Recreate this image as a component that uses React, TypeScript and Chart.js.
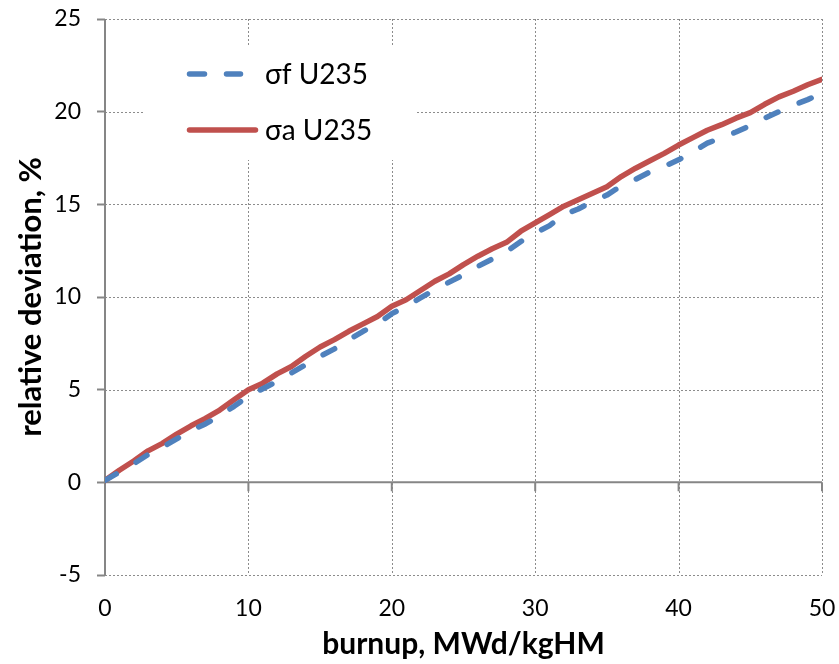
import React, { useEffect, useRef } from "react";
import { Chart, registerables } from "chart.js";

Chart.register(...registerables);

const burnup = [
  0, 1, 2, 3, 4, 5, 6, 7, 8, 9, 10, 11, 12, 13, 14, 15, 16, 17, 18, 19, 20, 21, 22, 23, 24, 25,
  26, 27, 28, 29, 30, 31, 32, 33, 34, 35, 36, 37, 38, 39, 40, 41, 42, 43, 44, 45, 46, 47, 48, 49, 50,
];
const sigmaF = [
  0.1, 0.55, 1.0, 1.5, 1.9, 2.35, 2.8, 3.15, 3.6, 4.1, 4.65, 5.05, 5.45, 5.9, 6.35, 6.8, 7.2, 7.7,
  8.15, 8.55, 9.1, 9.5, 9.95, 10.4, 10.8, 11.2, 11.65, 12.05, 12.45, 13.0, 13.45, 13.85, 14.45,
  14.75, 15.15, 15.5, 16.0, 16.35, 16.75, 17.05, 17.4, 17.85, 18.3, 18.6, 18.9, 19.25, 19.65, 20.0,
  20.35, 20.65, 21.0,
];
const sigmaA = [
  0.1, 0.65, 1.15, 1.7, 2.1, 2.6, 3.05, 3.45, 3.9, 4.45, 5.0, 5.35, 5.85, 6.25, 6.8, 7.3, 7.7, 8.15,
  8.55, 8.95, 9.5, 9.85, 10.35, 10.85, 11.25, 11.75, 12.2, 12.6, 12.95, 13.55, 14.0, 14.45, 14.9,
  15.25, 15.6, 15.95, 16.5, 16.95, 17.35, 17.75, 18.2, 18.6, 19.0, 19.3, 19.65, 19.95, 20.4, 20.8,
  21.1, 21.45, 21.75,
];
const seriesLabels = ["σf U235", "σa U235"];
const xTitle = "burnup, MWd/kgHM";
const yTitle = "relative deviation, %";
const xRange = [0, 50, 10];
const yRange = [-5, 25, 5];

const FONT = "Lato";

const dottedGridPlugin = {
  id: "dottedGrid",
  beforeDatasetsDraw(chart: any) {
    const { ctx, chartArea, scales } = chart;
    ctx.save();
    ctx.strokeStyle = "#8c8c8c";
    ctx.lineWidth = 1;
    ctx.setLineDash([2, 2]);
    ctx.beginPath();
    scales.y.ticks.forEach((t: any) => {
      const py = Math.round(scales.y.getPixelForValue(t.value)) + 0.5;
      ctx.moveTo(chartArea.left, py);
      ctx.lineTo(chartArea.right, py);
    });
    scales.x.ticks.forEach((t: any) => {
      const px = Math.round(scales.x.getPixelForValue(t.value)) + 0.5;
      ctx.moveTo(px, chartArea.top);
      ctx.lineTo(px, chartArea.bottom);
    });
    ctx.stroke();
    ctx.setLineDash([]);
    const y0 = scales.y.getPixelForValue(0);
    ctx.strokeStyle = "#868686";
    ctx.lineWidth = 2;
    ctx.beginPath();
    ctx.moveTo(chartArea.left, y0);
    ctx.lineTo(chartArea.right, y0);
    scales.x.ticks.forEach((t: any) => {
      const px = scales.x.getPixelForValue(t.value);
      ctx.moveTo(px, y0);
      ctx.lineTo(px, y0 + 9);
    });
    ctx.stroke();
    ctx.beginPath();
    ctx.moveTo(chartArea.left, chartArea.top);
    ctx.lineTo(chartArea.left, chartArea.bottom);
    ctx.stroke();
    ctx.restore();
  },
};

const insideLegendPlugin = {
  id: "insideLegend",
  afterDatasetsDraw(chart: any) {
    const { ctx, chartArea } = chart;
    const bx = chartArea.left + 38;
    const by = chartArea.top + 27;
    ctx.save();
    ctx.fillStyle = "#ffffff";
    ctx.fillRect(bx, by, 272, 114);
    chart.data.datasets.forEach((ds: any, i: number) => {
      const cy = by + 28 + i * 56;
      ctx.beginPath();
      ctx.strokeStyle = ds.borderColor;
      ctx.lineWidth = ds.borderWidth;
      ctx.lineCap = "round";
      ctx.setLineDash(i === 0 ? [15, 22] : []);
      ctx.moveTo(bx + 46.5, cy);
      ctx.lineTo(bx + (i === 0 ? 97.5 : 112.5), cy);
      ctx.stroke();
      ctx.setLineDash([]);
      ctx.fillStyle = "#000000";
      ctx.font = `28px ${FONT}`;
      ctx.textBaseline = "middle";
      ctx.textAlign = "left";
      ctx.fillText(ds.label, bx + 122, cy + 1);
    });
    ctx.restore();
  },
};

export default function App() {
  const ref = useRef<HTMLCanvasElement | null>(null);

  useEffect(() => {
    if (!ref.current) return;
    const chart = new Chart(ref.current, {
      type: "line",
      data: {
        datasets: [
          {
            label: seriesLabels[0],
            data: burnup.map((x, i) => ({ x, y: sigmaF[i] })),
            borderColor: "#4F81BD",
            borderWidth: 5.5,
            borderDash: [13, 23],
            borderCapStyle: "round",
            borderJoinStyle: "round",
            pointRadius: 0,
            tension: 0,
            fill: false,
          },
          {
            label: seriesLabels[1],
            data: burnup.map((x, i) => ({ x, y: sigmaA[i] })),
            borderColor: "#C0504D",
            borderWidth: 5.5,
            borderCapStyle: "round",
            borderJoinStyle: "round",
            pointRadius: 0,
            tension: 0,
            fill: false,
          },
        ],
      },
      options: {
        responsive: false,
        animation: false,
        layout: { padding: { top: 19, right: 17, left: 0, bottom: 0 } },
        plugins: {
          legend: { display: false },
          tooltip: { enabled: false },
        },
        scales: {
          x: {
            type: "linear",
            min: xRange[0],
            max: xRange[1],
            afterFit: (s: any) => {
              s.height = 89;
              s.paddingLeft = 0;
              s.paddingRight = 0;
            },
            ticks: {
              stepSize: xRange[2],
              color: "#000000",
              font: { family: FONT, size: 23 },
              padding: 20,
              maxRotation: 0,
            },
            grid: {
              drawOnChartArea: false,
              drawTicks: false,
            },
            border: { display: false },
            title: {
              display: true,
              text: xTitle,
              color: "#000000",
              font: { family: FONT, size: 30, weight: "bold" },
              padding: { top: 0, bottom: 2 },
            },
          },
          y: {
            min: yRange[0],
            max: yRange[1],
            afterFit: (s: any) => {
              s.width = 105;
              s.paddingTop = 0;
              s.paddingBottom = 0;
            },
            ticks: {
              stepSize: yRange[2],
              color: "#000000",
              font: { family: FONT, size: 23 },
              padding: 16,
            },
            grid: {
              drawOnChartArea: false,
              tickLength: 8,
              tickColor: "#868686",
              tickWidth: 2,
            },
            border: { display: false },
            title: {
              display: true,
              text: yTitle,
              color: "#000000",
              font: { family: FONT, size: 31, weight: "bold" },
              padding: { top: 12, bottom: 0 },
            },
          },
        },
      },
      plugins: [dottedGridPlugin, insideLegendPlugin],
    } as any);
    return () => chart.destroy();
  }, []);

  return (
    <div style={{ position: "absolute", left: 0, top: 0, width: 839, height: 664, background: "#fff" }}>
      <canvas ref={ref} width={839} height={664} style={{ display: "block", width: 839, height: 664 }} />
    </div>
  );
}
